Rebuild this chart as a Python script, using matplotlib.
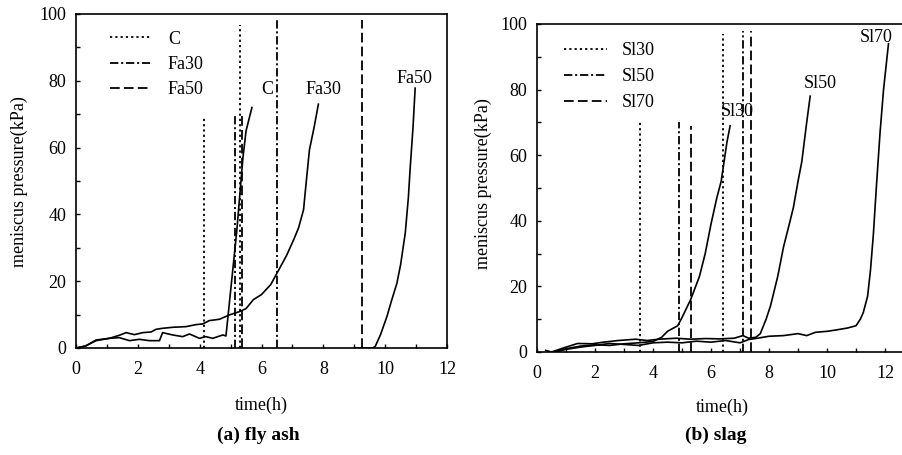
import matplotlib
matplotlib.use("Agg")
import matplotlib.pyplot as plt
from matplotlib.ticker import MultipleLocator

plt.rcParams['font.family'] = ['Liberation Serif', 'DejaVu Serif']
plt.rcParams['lines.scale_dashes'] = False

# ---------------- data: (a) fly ash ----------------
c_t = [0, 0.3, 0.65, 1.08, 1.4, 1.73, 2.05, 2.37, 2.7, 2.8, 3.13, 3.45, 3.67, 3.99, 4.2, 4.42, 4.75, 4.85,
       4.9, 5.0, 5.1, 5.2, 5.3, 5.4, 5.5, 5.69]
c_p = [0, 0.6, 2.2, 2.9, 3.1, 2.2, 2.6, 2.2, 2.2, 4.6, 3.9, 3.4, 4.2, 2.9, 3.4, 2.9, 3.9, 3.6,
       8, 17, 26, 35, 46, 57, 65, 72]
fa30_t = [0, 0.32, 0.65, 1.08, 1.4, 1.62, 1.89, 2.16, 2.43, 2.59, 2.8, 3.13, 3.56, 3.88, 4.1, 4.31, 4.64,
          4.96, 5.29, 5.5, 5.74, 6.0, 6.3, 6.5, 6.8, 7.04, 7.2, 7.36, 7.45, 7.55, 7.7, 7.84]
fa30_p = [0, 0.6, 2.4, 2.9, 3.8, 4.6, 4.0, 4.6, 4.8, 5.6, 5.9, 6.2, 6.4, 7.0, 7.2, 8.2, 8.6,
          9.9, 10.9, 11.8, 14.5, 16, 19, 22.4, 27.5, 32.4, 36, 41.4, 50, 59.3, 66, 73]
fa50_t = [9.05, 9.6, 9.68, 9.85, 10.06, 10.2, 10.38, 10.5, 10.65, 10.75, 10.81, 10.9, 10.97]
fa50_p = [0, 0, 0.5, 4, 9.5, 14, 19.4, 25, 34.4, 45, 54, 66, 77.8]

# setting-time markers (x position, top of the line)
c_set_x = [4.14, 5.31]
c_set_h = [69.5, 96.7]
fa30_set_x = [5.15, 6.51]
fa30_set_h = [70, 98.2]
fa50_set_x = [5.38, 9.26]
fa50_set_h = [70, 98.2]

# ---------------- data: (b) slag ----------------
sl30_t = [0.6, 1.0, 1.5, 2.0, 2.5, 3.0, 3.5, 4.0, 4.3, 4.5, 4.85, 5.0, 5.3, 5.6, 5.8, 6.0, 6.2, 6.35,
          6.45, 6.55, 6.66]
sl30_p = [0, 1, 1.8, 2.2, 2.0, 2.5, 2.8, 3.2, 4.5, 6.3, 8, 10.5, 16, 23, 30, 39, 47, 52, 58, 64, 69]
sl50_t = [0.3, 0.5, 0.9, 1.4, 1.9, 2.3, 2.8, 3.4, 3.8, 4.2, 4.8, 5.3, 5.8, 6.3, 6.8, 7.1, 7.3, 7.55,
          7.7, 7.9, 8.05, 8.3, 8.5, 8.7, 8.84, 9.0, 9.13, 9.3, 9.42]
sl50_p = [0.5, 0, 1.2, 2.6, 2.5, 3.0, 3.5, 3.9, 3.5, 3.9, 4.2, 3.9, 4.1, 4.0, 4.2, 5.0, 4.2, 4.5,
          5.6, 10, 14, 23, 32, 39, 44, 52, 58, 70, 78]
sl70_t = [0.6, 1.0, 1.5, 2.0, 2.5, 3.0, 3.5, 4.0, 4.5, 5.0, 5.5, 6.0, 6.5, 7.0, 7.3, 7.6, 8.0, 8.5,
          9.0, 9.3, 9.6, 10.0, 10.3, 10.7, 11.0, 11.15, 11.25, 11.4, 11.5, 11.6, 11.7, 11.83, 11.95, 12.12]
sl70_p = [0, 0.8, 1.5, 2.0, 2.6, 2.3, 2.0, 2.8, 3.0, 2.8, 3.3, 3.0, 3.5, 2.8, 3.8, 4.2, 4.8, 5.0,
          5.6, 5.0, 6.0, 6.3, 6.7, 7.3, 8.0, 10, 12, 17, 25, 36, 50, 67, 80, 94]

sl30_set_x = [3.56, 6.40]
sl30_set_h = [70.2, 97.1]
sl50_set_x = [4.88, 7.09]
sl50_set_h = [70, 98]
sl70_set_x = [5.31, 7.38]
sl70_set_h = [68.9, 98]

# ---------------- styles ----------------
DOT = (0, (1.6, 2.2))
DASHDOT = (0, (6, 2, 1.5, 2))
DASH = (0, (7, 3))
FS = 13

fig = plt.figure(figsize=(9.02, 4.55), dpi=100)
W, H = 902, 455


def axes_px(l, t, r, b):
    return fig.add_axes([l / W, 1 - b / H, (r - l) / W, (b - t) / H])


def style_axes(ax, xmax, hide_right=False):
    ax.set_xlim(0, xmax)
    ax.set_ylim(0, 100)
    ax.xaxis.set_major_locator(MultipleLocator(2))
    ax.xaxis.set_minor_locator(MultipleLocator(1))
    ax.yaxis.set_major_locator(MultipleLocator(20))
    ax.yaxis.set_minor_locator(MultipleLocator(10))
    ax.tick_params(which='both', direction='in', length=3.2, width=1.0, top=False, right=False)
    ax.tick_params(axis='x', which='major', pad=9, labelsize=FS)
    ax.tick_params(axis='y', which='major', pad=7, labelsize=FS)
    for s in ax.spines.values():
        s.set_linewidth(1.2)
    if hide_right:
        ax.spines['right'].set_visible(False)


def vlines(ax, xs, hs, ls, label):
    for i, (x, h) in enumerate(zip(xs, hs)):
        ax.plot([x, x], [0, h], color='black', lw=1.3, linestyle=ls,
                label=label if i == 0 else None)


# ---------- (a) fly ash ----------
ax1 = axes_px(76, 14, 447, 348)
style_axes(ax1, 12)
vlines(ax1, c_set_x, c_set_h, DOT, 'C')
vlines(ax1, fa30_set_x, fa30_set_h, DASHDOT, 'Fa30')
vlines(ax1, fa50_set_x, fa50_set_h, DASH, 'Fa50')
ax1.plot(c_t, c_p, color='black', lw=1.2)
ax1.plot(fa30_t, fa30_p, color='black', lw=1.2)
ax1.plot(fa50_t, fa50_p, color='black', lw=1.2)
ax1.text(6.17, 77.5, 'C', fontsize=FS, ha='center', va='center')
ax1.text(8.0, 77.3, 'Fa30', fontsize=FS, ha='center', va='center')
ax1.text(10.95, 80.8, 'Fa50', fontsize=FS, ha='center', va='center')
ax1.legend(loc='upper left', bbox_to_anchor=(0.092, 0.95), frameon=False, fontsize=FS,
           handlelength=2.2, handletextpad=1.0, labelspacing=0.45, borderpad=0, borderaxespad=0)
ax1.set_xlabel('time(h)', fontsize=FS)
ax1.xaxis.set_label_coords(0.5, -0.147)
ax1.set_ylabel('meniscus pressure(kPa)', fontsize=FS)
ax1.yaxis.set_label_coords(-0.129, 0.497)

# ---------- (b) slag ----------
ax2 = axes_px(537, 24, 902, 352)
style_axes(ax2, 365 / 29.0, hide_right=True)
vlines(ax2, sl30_set_x, sl30_set_h, DOT, 'Sl30')
vlines(ax2, sl50_set_x, sl50_set_h, DASHDOT, 'Sl50')
vlines(ax2, sl70_set_x, sl70_set_h, DASH, 'Sl70')
ax2.plot(sl30_t, sl30_p, color='black', lw=1.2)
ax2.plot(sl50_t, sl50_p, color='black', lw=1.2)
ax2.plot(sl70_t, sl70_p, color='black', lw=1.2)
ax2.text(6.91, 73.2, 'Sl30', fontsize=FS, ha='center', va='center')
ax2.text(9.76, 82.0, 'Sl50', fontsize=FS, ha='center', va='center')
ax2.text(11.71, 95.9, 'Sl70', fontsize=FS, ha='center', va='center')
ax2.legend(loc='upper left', bbox_to_anchor=(0.074, 0.944), frameon=False, fontsize=FS,
           handlelength=2.4, handletextpad=0.8, labelspacing=0.5, borderpad=0, borderaxespad=0)
ax2.set_xlabel('time(h)', fontsize=FS)
ax2.xaxis.set_label_coords(0.507, -0.143)
ax2.set_ylabel('meniscus pressure(kPa)', fontsize=FS)
ax2.yaxis.set_label_coords(-0.123, 0.515)

fig.text(258 / W, 1 - 435 / H, '(a) fly ash', fontsize=14, fontweight='bold', ha='center', va='center')
fig.text(716 / W, 1 - 435 / H, '(b) slag', fontsize=14, fontweight='bold', ha='center', va='center')

fig.savefig('out.png', dpi=100)
